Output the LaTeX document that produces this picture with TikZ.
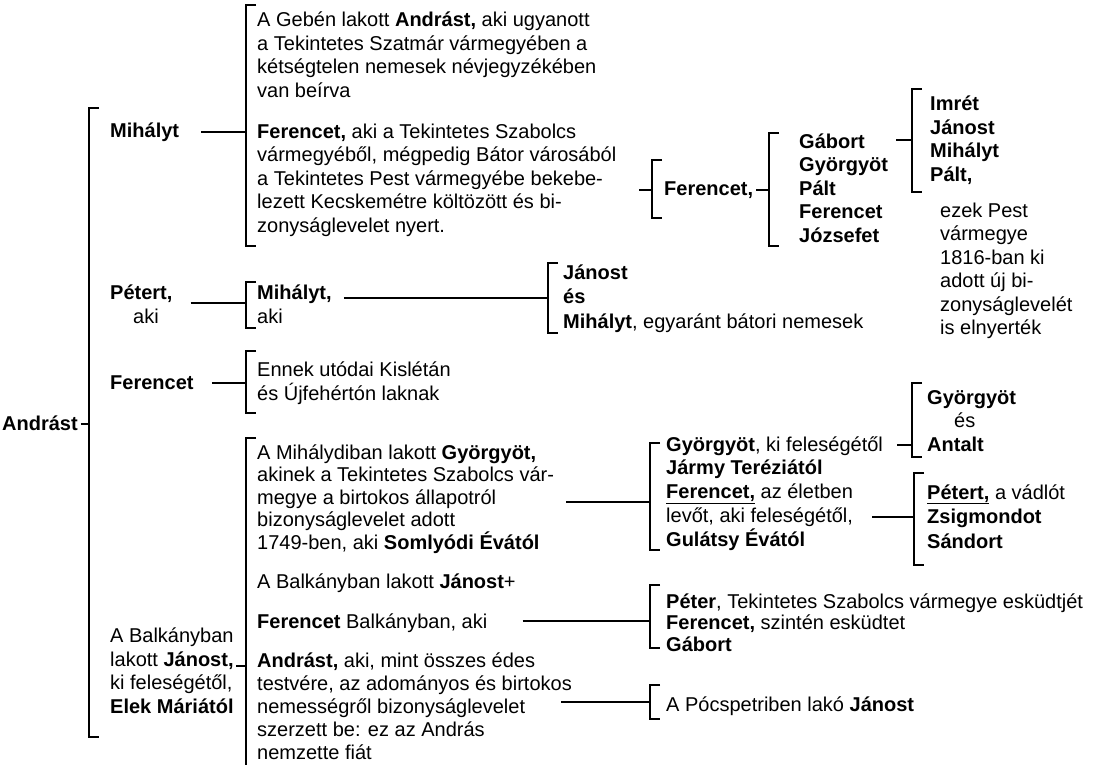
\documentclass[tikz,border=0pt]{standalone}
\usepackage{fontspec}
\setmainfont{Liberation Sans}
\usepackage{tikz}
\usetikzlibrary{positioning}

% bracket: x, top, bottom
\newcommand{\brkt}[3]{\draw[brk] (#1+10,#2) -| (#1,#3) -- ++(10,0);}

\begin{document}
\begin{tikzpicture}[x=1pt,y=-1pt,font=\fontsize{20}{23.5}\selectfont,
  txt/.style={anchor=base west,align=left,inner sep=0pt},
  brk/.style={line width=1.6pt},
  lnk/.style={line width=1.2pt}]
  \useasboundingbox (0,0) rectangle (1098,765);
  % first generation (text nodes sit on the baseline of their last line)
  \node[txt] (andrast) at (2,430) {\textbf{Andrást}};
  \coordinate (jAnd) at (89,424);
  \draw[brk] (99,108) -| (89,737) -- ++(10,0);
  \draw[lnk] (andrast.east |- jAnd) ++(3,0) -- (jAnd);

  % Mihályt branch
  \node[txt] (mih) at (110,138) {\textbf{Mihályt}};
  \coordinate (jMih) at (246,132);
  \brkt{246}{5}{246}
  \draw[lnk] (mih.east |- jMih) ++(22,0) -- (jMih);
  \node[txt] (geben) at (257,97.5) {A Gebén lakott \textbf{Andrást,} aki ugyanott\\a Tekintetes Szatmár vármegyében a\\kétségtelen nemesek névjegyzékében\\van beírva};
  \node[txt] (szab) at (257,232) {\textbf{Ferencet,} aki a Tekintetes Szabolcs\\vármegyéből, mégpedig Bátor városából\\a Tekintetes Pest vármegyébe bekebe-\\lezett Kecskemétre költözött és bi-\\zonyságlevelet nyert.};
  \coordinate (jFerA) at (652,190);
  \brkt{652}{160}{218}
  \draw[lnk] (jFerA) -- ++(-13,0);
  \node[txt] (fer2) at (664,196) {\textbf{Ferencet,}};
  \coordinate (jGab) at (769,190);
  \brkt{769}{133}{246}
  \draw[lnk] (fer2.east |- jGab) ++(3,0) -- (jGab);
  \node[txt] (names) at (799,242) {\textbf{Gábort}\\\textbf{Györgyöt}\\\textbf{Pált}\\\textbf{Ferencet}\\\textbf{Józsefet}};
  \coordinate (jImr) at (912,140);
  \brkt{912}{89}{192}
  \draw[lnk] (names.east |- jImr) ++(8,0) -- (jImr);
  \node[txt] (imret) at (930,181.5) {\textbf{Imrét}\\\textbf{Jánost}\\\textbf{Mihályt}\\\textbf{Pált,}};
  \node[txt] (ezek) at (940,334.5) {ezek Pest\\vármegye\\1816-ban ki\\adott új bi-\\zonyságlevelét\\is elnyerték};

  % Pétert branch
  \node[txt] (petert) at (110,323) {\textbf{Pétert,}\\\hspace{23pt}aki};
  \coordinate (jPet) at (246,303);
  \brkt{246}{282}{328}
  \draw[lnk] (petert.east |- jPet) ++(18,0) -- (jPet);
  \node[txt] (mih2) at (257,323) {\textbf{Mihályt,}\\aki};
  \coordinate (jJan) at (548,298);
  \brkt{548}{263}{333}
  \draw[lnk] (mih2.east |- jJan) ++(12,0) -- (jJan);
  \node[txt,font=\fontsize{20}{24.5}\selectfont] (janos) at (563,328) {\textbf{Jánost}\\\textbf{és}\\\textbf{Mihályt}, egyaránt bátori nemesek};

  % Ferencet branch
  \node[txt] (fer) at (110,389) {\textbf{Ferencet}};
  \coordinate (jFer) at (246,383);
  \brkt{246}{351}{413}
  \draw[lnk] (fer.east |- jFer) ++(18,0) -- (jFer);
  \node[txt] (ennek) at (257,400) {Ennek utódai Kislétán\\és Újfehértón laknak};

  % János branch
  \node[txt] (balk) at (110,713) {A Balkányban\\lakott \textbf{Jánost,}\\ki feleségétől,\\\textbf{Elek Máriától}};
  \coordinate (jBal) at (246,666);
  \draw[brk] (256,438) -- (246,438) -- (246,765);
  \draw[lnk] (jBal) -- ++(-10,0);
  \node[txt,font=\fontsize{20}{22.5}\selectfont] (mihd) at (257,549) {A Mihálydiban lakott \textbf{Györgyöt,}\\akinek a Tekintetes Szabolcs vár-\\megye a birtokos állapotról\\bizonyságlevelet adott\\1749-ben, aki \textbf{Somlyódi Évától}};
  \node[txt] (bjan) at (257,588) {A Balkányban lakott \textbf{Jánost}+};
  \node[txt] (fbal) at (257,628) {\textbf{Ferencet} Balkányban, aki};
  \node[txt,font=\fontsize{20}{23}\selectfont] (aaki) at (257,759) {\textbf{Andrást,} aki, mint összes édes\\testvére, az adományos és birtokos\\nemességről bizonyságlevelet\\szerzett be: ez az András\\nemzette fiát};

  % Györgyöt
  \coordinate (jGyo) at (650,502);
  \brkt{650}{443}{550}
  \draw[lnk] (mihd.east |- jGyo) ++(12,0) -- (jGyo);
  \node[txt,font=\fontsize{20}{23.75}\selectfont] (gyor) at (666,546) {\textbf{Györgyöt}, ki feleségétől\\\textbf{Jármy Teréziától}\\\underline{\textbf{Ferencet,}} az életben\\levőt, aki feleségétől,\\\textbf{Gulátsy Évától}};
  \coordinate (jAnt) at (912,445);
  \brkt{912}{383}{457}
  \draw[lnk] (jAnt) -- ++(-15,0);
  \node[txt] (antalt) at (927,451) {\textbf{Györgyöt}\\\hspace{27pt}és\\\textbf{Antalt}};
  \coordinate (sPet) at (872,517);
  \coordinate (jPet2) at (914,517);
  \brkt{914}{473}{565}
  \draw[lnk] (sPet) -- (jPet2);
  \node[txt,font=\fontsize{20}{24.5}\selectfont] (petert2) at (927,548) {\underline{\textbf{Pétert,}} a vádlót\\\textbf{Zsigmondot}\\\textbf{Sándort}};

  % Ferencet Balkányban
  \coordinate (jPeter) at (650,621);
  \brkt{650}{585}{648}
  \draw[lnk] (fbal.east |- jPeter) ++(35,0) -- (jPeter);
  \node[txt,font=\fontsize{20}{21.5}\selectfont] (peter) at (666,651) {\textbf{Péter}, Tekintetes Szabolcs vármegye esküdtjét\\\textbf{Ferencet,} szintén esküdtet\\\textbf{Gábort}};

  % Andrást
  \coordinate (sPoc) at (561,702);
  \coordinate (jPoc) at (650,702);
  \brkt{650}{685}{719}
  \draw[lnk] (sPoc) -- (jPoc);
  \node[txt] (poc) at (666,711) {A Pócspetriben lakó \textbf{Jánost}};
\end{tikzpicture}
\end{document}
